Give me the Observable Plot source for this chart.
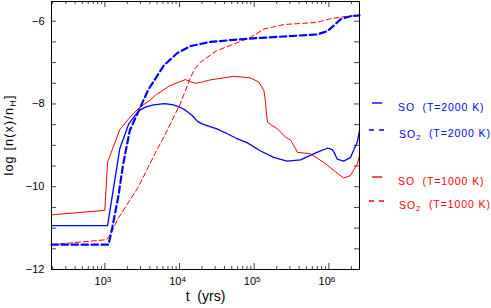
<!DOCTYPE html>
<html>
<head>
<meta charset="utf-8">
<script src="https://cdn.jsdelivr.net/npm/d3@7"></script>
<script src="https://cdn.jsdelivr.net/npm/@observablehq/plot@0.6"></script>
<style>
  html, body { margin: 0; padding: 0; background: #fff; }
  svg { display: block; }
</style>
</head>
<body>
<div id="chart"></div>
<script>
// ---- data (t in years, value = log n(x)/nH) ----
const soHotT  = [193, 1087, 1585, 2090, 2850, 3550, 4500, 6300, 8300, 10200, 12000, 14800, 17400, 20000, 31600, 43700, 58900, 81300, 120000, 182000, 275000, 417000, 692000, 955000, 1100000, 1175000, 1290000, 1580000, 1950000, 2400000, 2570000];
const soHotV  = [-10.94, -10.94, -9.08, -8.48, -8.16, -8.07, -8.02, -7.99, -8.02, -8.08, -8.15, -8.28, -8.42, -8.48, -8.6, -8.72, -8.84, -8.94, -9.13, -9.29, -9.38, -9.35, -9.17, -9.07, -9.1, -9.17, -9.33, -9.38, -9.29, -8.92, -8.65];

const so2HotT = [193, 1120, 1260, 1510, 1760, 2160, 2850, 3800, 4900, 6170, 9330, 14100, 26000, 53700, 105000, 251000, 692000, 955000, 1175000, 1445000, 1950000, 2570000];
const so2HotV = [-11.4, -11.4, -10.98, -10.25, -9.45, -8.64, -8.16, -7.66, -7.35, -7.07, -6.77, -6.6, -6.5, -6.45, -6.41, -6.37, -6.32, -6.24, -6.1, -5.95, -5.88, -5.86];

const soColdT  = [193, 1000, 1087, 1585, 2100, 2850, 4070, 4900, 7400, 12000, 13800, 16200, 19000, 25700, 53700, 89000, 115000, 135000, 141000, 146000, 151000, 166000, 204000, 263000, 309000, 380000, 562000, 851000, 1290000, 1580000, 1950000, 2400000, 2570000];
const soColdV  = [-10.68, -10.57, -9.41, -8.62, -8.35, -8.1, -7.9, -7.77, -7.56, -7.41, -7.46, -7.5, -7.48, -7.42, -7.33, -7.37, -7.47, -7.68, -7.92, -8.24, -8.44, -8.5, -8.6, -8.8, -8.88, -9.17, -9.2, -9.41, -9.67, -9.79, -9.73, -9.45, -9.25];

const so2ColdT = [193, 1055, 1120, 1200, 1510, 2800, 4900, 6170, 10200, 14100, 16000, 19100, 31600, 53700, 89000, 135000, 251000, 692000, 1050000, 1580000, 2570000];
const so2ColdV = [-11.4, -11.28, -11.22, -11.14, -10.76, -10.01, -9.13, -8.8, -8.0, -7.35, -7.15, -6.99, -6.71, -6.55, -6.39, -6.19, -6.08, -6.03, -5.94, -5.89, -5.86];

const xTickLabels = [1e3, 1e4, 1e5, 1e6];
const yTickLabels = [-12, -10, -8, -6];
const legendNames = ["SO", "SO", "SO", "SO"];
const legendSubs  = ["", "2", "", "2"];
const legendTemps = ["(T=2000\u00a0K)", "(T=2000\u00a0K)", "(T=1000\u00a0K)", "(T=1000\u00a0K)"];
const legendColors = ["#0000ff", "#0000ff", "#ff0000", "#ff0000"];
const legendDashed = [false, true, false, true];

// ---- build ----
const toRows = (T, V) => T.map((t, i) => ({t, v: V[i]}));
const W = 491, H = 308;
const mL = 51, mR = 132, mT = 1, mB = 39;
const innerW = W - mL - mR, innerH = H - mT - mB;
const xDomain = [193, 2.57e6];

const xMinor = [];
for (const d of [1e2, 1e3, 1e4, 1e5, 1e6]) for (let k = 2; k <= 9; k++) {
  const v = k * d; if (v >= xDomain[0] && v <= xDomain[1]) xMinor.push(v);
}
const yMinor = d3.range(-12, -5.99, 0.5);
const tickStroke = "#444";

const plot = Plot.plot({
  width: W, height: H,
  marginLeft: mL, marginRight: mR, marginTop: mT, marginBottom: mB,
  style: {fontFamily: "'Liberation Sans', Arial, sans-serif", fontSize: "11px", background: "#fff"},
  x: {type: "log", domain: xDomain},
  y: {domain: [-12, -5.524]},
  marks: [
    // ticks (inward, all four sides)
    Plot.tickX(xTickLabels, {x: d => d, insetTop: innerH - 6, stroke: tickStroke}),
    Plot.tickX(xTickLabels, {x: d => d, insetBottom: innerH - 6, stroke: tickStroke}),
    Plot.tickX(xMinor, {x: d => d, insetTop: innerH - 3, stroke: tickStroke}),
    Plot.tickX(xMinor, {x: d => d, insetBottom: innerH - 3, stroke: tickStroke}),
    Plot.tickY(yMinor, {y: d => d, insetRight: innerW - 5, stroke: tickStroke}),
    Plot.tickY(yMinor, {y: d => d, insetLeft: innerW - 5, stroke: tickStroke}),
    Plot.axisX(xTickLabels, {tickSize: 0, tickPadding: 8, fontSize: 11, tickFormat: d => "10^" + Math.round(Math.log10(d)), label: null}),
    Plot.axisY(yTickLabels, {tickSize: 0, tickPadding: 7, fontSize: 11, label: null}),
    // series
    Plot.line(toRows(so2ColdT, so2ColdV), {x: "t", y: "v", stroke: "#ff0000", strokeWidth: 1, strokeDasharray: "5,3"}),
    Plot.line(toRows(soColdT, soColdV), {x: "t", y: "v", stroke: "#ff0000", strokeWidth: 1}),
    Plot.line(toRows(soHotT, soHotV), {x: "t", y: "v", stroke: "#0000ff", strokeWidth: 1.3}),
    Plot.line(toRows(so2HotT, so2HotV), {x: "t", y: "v", stroke: "#0000ff", strokeWidth: 2.2, strokeDasharray: "6.5,3.5"}),
    Plot.frame({stroke: "#000", strokeWidth: 1}),
    Plot.text(["t\u00a0\u00a0(yrs)"], {frameAnchor: "bottom", dy: 31, fontSize: 14, text: d => d})
  ]
});

const svg = d3.select(plot);

// superscript exponents on x tick labels
svg.selectAll('g[aria-label="x-axis tick label"] text').each(function () {
  const s = this.textContent;
  const m = s.match(/^10\^(\d+)$/);
  if (!m) return;
  const t = d3.select(this);
  t.text("");
  t.attr("dx", -2);
  t.append("tspan").text("10");
  t.append("tspan").attr("dy", "-0.4em").attr("font-size", "8px").text(m[1]);
});

// y axis title with subscript
const yt = svg.append("text")
  .attr("transform", `translate(13,${mT + innerH / 2}) rotate(-90)`)
  .attr("text-anchor", "middle")
  .attr("font-size", 12.5)
  .attr("letter-spacing", 1.2)
  .attr("fill", "#000");
yt.append("tspan").text("log\u00a0[n(x)/n");
yt.append("tspan").attr("font-size", 9).attr("dy", "0.3em").text("H");
yt.append("tspan").attr("dy", "-0.25em").text("]");

// legend
const legY = [103, 130, 177, 201];
const lg = svg.append("g").attr("font-size", 10.5).attr("letter-spacing", 0.9).attr("text-anchor", "start");
legendNames.forEach((nm, i) => {
  const y = legY[i];
  const c = legendColors[i];
  if (legendDashed[i]) {
    lg.append("line").attr("x1", 369).attr("x2", 385).attr("y1", y).attr("y2", y)
      .attr("stroke", c).attr("stroke-width", 1.4).attr("stroke-dasharray", "5,5");
  } else {
    lg.append("line").attr("x1", 372).attr("x2", 382).attr("y1", y).attr("y2", y)
      .attr("stroke", c).attr("stroke-width", 1.4);
  }
  const tx = lg.append("text").attr("x", legendSubs[i] ? 399 : 398).attr("y", y + 8)
    .attr("fill", c).attr("text-anchor", "start");
  tx.append("tspan").text(nm);
  if (legendSubs[i]) {
    tx.append("tspan").attr("font-size", 8).attr("dy", "0.3em").text(legendSubs[i]);
    tx.append("tspan").attr("dy", "-0.3em").text("\u00a0\u00a0" + legendTemps[i]);
  } else {
    tx.append("tspan").text("\u00a0\u00a0" + legendTemps[i]);
  }
});

document.getElementById("chart").appendChild(plot);
</script>
</body>
</html>
